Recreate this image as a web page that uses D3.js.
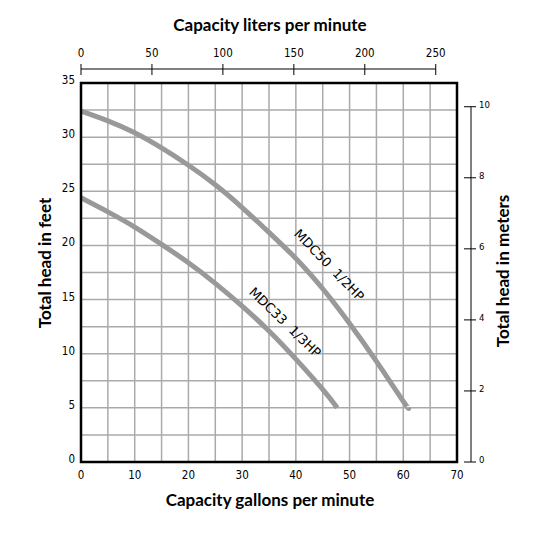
<!DOCTYPE html>
<html>
<head>
<meta charset="utf-8">
<script src="https://cdn.jsdelivr.net/npm/d3@7"></script>
<style>
  body { margin: 0; background: #fff; }
  .tick-lbl { font-family: "DejaVu Sans", sans-serif; font-stretch: condensed; font-size: 11.5px; fill: #000; }
  .title { font-family: "Liberation Sans Narrow", "Lato", sans-serif; font-weight: bold; font-size: 17px; fill: #000; }
  .curve-lbl { font-family: "DejaVu Sans", sans-serif; font-size: 13px; fill: #000; }
</style>
</head>
<body>
<div id="chart"></div>
<script>
var w = 555,
  h = 539;

// gpm ticks, feet ticks, liters ticks, meter ticks
var gpmTicks = [0, 10, 20, 30, 40, 50, 60, 70];
var feetTicks = [0, 5, 10, 15, 20, 25, 30, 35];
var literTicks = [0, 50, 100, 150, 200, 250];
var meterTicks = [0, 2, 4, 6, 8, 10];

// pump curves (gpm, feet)
var mdc50Gpm = [0, 5, 10, 15, 20, 25, 30, 35, 40, 45, 50, 55, 60, 61];
var mdc50Ft = [32.4, 31.5, 30.4, 29.0, 27.4, 25.6, 23.5, 21.2, 18.8, 16.0, 12.8, 9.3, 5.6, 5.0];
var mdc33Gpm = [0, 5, 10, 15, 20, 25, 30, 35, 40, 45, 47.7];
var mdc33Ft = [24.4, 23.1, 21.7, 20.1, 18.4, 16.5, 14.4, 12.1, 9.5, 6.7, 5.0];

var curveNames = ['MDC50\u00a0\u00a01/2HP', 'MDC33\u00a0\u00a01/3HP'];
var labelGpm = [46.2, 38.0];
var labelFt = [18.2, 12.9];
var labelAngle = [46, 44];

var L_PER_GAL = 3.78541,
  FT_PER_M = 3.28084;

var svg = d3.select('#chart').append('svg')
  .attr('width', w)
  .attr('height', h);

var x = d3.scaleLinear().domain([0, 70]).range([81, 457]);
var y = d3.scaleLinear().domain([0, 35]).range([462, 83]);

// liters and meters mapped onto the same pixels
var xL = d3.scaleLinear().domain([0, 70 * L_PER_GAL]).range([81, 457]);
var yM = d3.scaleLinear().domain([0, 35 / FT_PER_M]).range([462, 83]);

// grid
svg.append('g').selectAll('line')
  .data(d3.range(5, 70, 5))
  .enter().append('line')
  .attr('x1', function(d) { return x(d); })
  .attr('x2', function(d) { return x(d); })
  .attr('y1', y(0))
  .attr('y2', y(35))
  .attr('stroke', '#aaa')
  .attr('stroke-width', 1.5);

svg.append('g').selectAll('line')
  .data(d3.range(2.5, 35, 2.5))
  .enter().append('line')
  .attr('x1', x(0))
  .attr('x2', x(70))
  .attr('y1', function(d) { return y(d); })
  .attr('y2', function(d) { return y(d); })
  .attr('stroke', '#aaa')
  .attr('stroke-width', 1.5);

// curves
var line = d3.line()
  .x(function(d) { return x(d[0]); })
  .y(function(d) { return y(d[1]); })
  .curve(d3.curveNatural);

var curves = [d3.zip(mdc50Gpm, mdc50Ft), d3.zip(mdc33Gpm, mdc33Ft)];

svg.append('g').selectAll('path')
  .data(curves)
  .enter().append('path')
  .attr('d', line)
  .attr('fill', 'none')
  .attr('stroke', '#999')
  .attr('stroke-width', 5);

svg.append('g').selectAll('text')
  .data(curveNames)
  .enter().append('text')
  .attr('class', 'curve-lbl')
  .attr('text-anchor', 'middle')
  .attr('dy', '0.35em')
  .attr('transform', function(d, i) {
    return 'translate(' + x(labelGpm[i]) + ',' + y(labelFt[i]) + ') rotate(' + labelAngle[i] + ')';
  })
  .text(function(d) { return d; });

// plot frame
svg.append('rect')
  .attr('x', x(0))
  .attr('y', y(35))
  .attr('width', x(70) - x(0))
  .attr('height', y(0) - y(35))
  .attr('fill', 'none')
  .attr('stroke', '#000')
  .attr('stroke-width', 2.5);

// bottom labels (gpm)
svg.append('g').selectAll('text')
  .data(gpmTicks)
  .enter().append('text')
  .attr('class', 'tick-lbl')
  .attr('x', function(d) { return x(d); })
  .attr('y', 475)
  .attr('dy', '0.35em')
  .attr('text-anchor', 'middle')
  .text(function(d) { return d; });

// left labels (feet)
svg.append('g').selectAll('text')
  .data(feetTicks)
  .enter().append('text')
  .attr('class', 'tick-lbl')
  .attr('x', 75)
  .attr('y', function(d) { return y(d) - 3; })
  .attr('dy', '0.35em')
  .attr('text-anchor', 'end')
  .text(function(d) { return d; });

// top axis (liters)
var topAxis = svg.append('g').attr('transform', 'translate(0,69)');
topAxis.append('line')
  .attr('x1', xL(0))
  .attr('x2', xL(250))
  .attr('stroke', '#000');
topAxis.selectAll('line.t')
  .data(literTicks)
  .enter().append('line')
  .attr('class', 't')
  .attr('x1', function(d) { return xL(d); })
  .attr('x2', function(d) { return xL(d); })
  .attr('y1', -5)
  .attr('y2', 6)
  .attr('stroke', '#000');
topAxis.selectAll('text')
  .data(literTicks)
  .enter().append('text')
  .attr('class', 'tick-lbl')
  .attr('x', function(d) { return xL(d); })
  .attr('y', -16)
  .attr('dy', '0.35em')
  .attr('text-anchor', 'middle')
  .text(function(d) { return d; });

// right axis (meters)
var rightAxis = svg.append('g').attr('transform', 'translate(471,0)');
rightAxis.append('line')
  .attr('y1', yM(0))
  .attr('y2', yM(10))
  .attr('stroke', '#000');
rightAxis.selectAll('line.t')
  .data(meterTicks)
  .enter().append('line')
  .attr('class', 't')
  .attr('y1', function(d) { return yM(d); })
  .attr('y2', function(d) { return yM(d); })
  .attr('x1', -7)
  .attr('x2', 5)
  .attr('stroke', '#000');
rightAxis.selectAll('text')
  .data(meterTicks)
  .enter().append('text')
  .attr('class', 'tick-lbl')
  .style('font-size', '9.5px')
  .attr('x', 8)
  .attr('y', function(d) { return yM(d) - 2; })
  .attr('dy', '0.35em')
  .text(function(d) { return d; });

// titles
svg.append('text')
  .attr('class', 'title')
  .attr('x', 270)
  .attr('y', 25)
  .attr('dy', '0.35em')
  .attr('text-anchor', 'middle')
  .text('Capacity liters per minute');

svg.append('text')
  .attr('class', 'title')
  .attr('x', 270)
  .attr('y', 500)
  .attr('dy', '0.35em')
  .attr('text-anchor', 'middle')
  .text('Capacity gallons per minute');

svg.append('text')
  .attr('class', 'title')
  .attr('transform', 'translate(45,263) rotate(-90)')
  .attr('dy', '0.35em')
  .attr('text-anchor', 'middle')
  .text('Total head in feet');

svg.append('text')
  .attr('class', 'title')
  .attr('transform', 'translate(503,271) rotate(-90)')
  .attr('dy', '0.35em')
  .attr('text-anchor', 'middle')
  .text('Total head in meters');
</script>
</body>
</html>
